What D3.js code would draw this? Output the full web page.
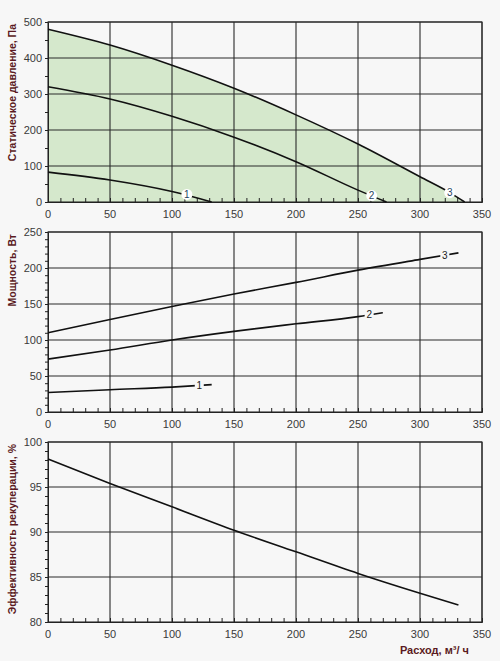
<!DOCTYPE html>
<html>
<head>
<meta charset="utf-8">
<script src="https://cdn.jsdelivr.net/npm/d3@7"></script>
<style>
  body { margin: 0; background: #f7f7f7; }
  svg { display: block; font-family: "Liberation Sans", Arial, sans-serif; }
</style>
</head>
<body>
<div id="graphicContainer"></div>
<script>
// ---- data ----
var xTicks = [0, 50, 100, 150, 200, 250, 300, 350];

// static pressure, Pa
var pressFlow1 = [0, 50, 100, 132],
    pressVal1  = [83, 61, 29, 0],
    pressFlow2 = [0, 50, 100, 150, 200, 250, 273],
    pressVal2  = [320, 286, 238, 180, 112, 33, 0],
    pressFlow3 = [0, 50, 100, 150, 200, 250, 300, 324, 336],
    pressVal3  = [480, 436, 380, 316, 242, 161, 70, 26, 0],
    pressTicks = [0, 100, 200, 300, 400, 500],
    pressLabels = [[112, 21, "1"], [261, 18, "2"], [324, 26, "3"]];

// power, W
var powFlow1 = [0, 50, 100, 132],
    powVal1  = [27, 31, 34.6, 38],
    powFlow2 = [0, 50, 100, 150, 200, 250, 270],
    powVal2  = [73.5, 86, 100, 112, 122.5, 132.5, 138],
    powFlow3 = [0, 50, 100, 150, 200, 250, 300, 331],
    powVal3  = [110, 128.5, 146.5, 164, 180, 197, 212, 221],
    powTicks = [0, 50, 100, 150, 200, 250],
    powLabels = [[122, 36.8, "1"], [259, 135, "2"], [320, 218, "3"]];

// heat recovery efficiency, %
var effFlow = [0, 50, 100, 150, 200, 250, 300, 331],
    effVal  = [98.1, 95.4, 92.8, 90.2, 87.8, 85.4, 83.2, 81.9],
    effTicks = [80, 85, 90, 95, 100];

var width = 500, height = 661,
    left = 48, right = 482,
    panelH = 180;

var svg = d3.select("#graphicContainer").append("svg")
    .attr("width", width)
    .attr("height", height);

svg.append("rect").attr("width", width).attr("height", height).attr("fill", "#f7f7f7");

var x = d3.scaleLinear().domain([0, 350]).range([left, right]);

function zip(xs, ys) { return xs.map(function(v, i){ return [v, ys[i]] }) }

function panel(top, domain, ticks, minorStep, title) {
    var y = d3.scaleLinear().domain(domain).range([top + panelH, top]);
    var g = svg.append("g");

    g.append("g").attr("class", "fillLayer");

    // grid
    g.selectAll(".vgrid").data(xTicks.slice(1)).enter().append("line")
        .attr("x1", x).attr("x2", x)
        .attr("y1", top).attr("y2", top + panelH)
        .attr("stroke", "#2a2a2a").attr("stroke-width", 1.1);
    g.selectAll(".hgrid").data(ticks.slice(1)).enter().append("line")
        .attr("x1", left).attr("x2", right)
        .attr("y1", y).attr("y2", y)
        .attr("stroke", "#2a2a2a").attr("stroke-width", 1.1);

    // axes (minor ticks only, labels done below)
    var minorX = d3.range(0, 351, 10);
    var minorY = d3.range(domain[0], domain[1] + 0.001, minorStep);

    g.append("g").attr("transform", "translate(0," + (top + panelH) + ")")
        .call(d3.axisBottom(x).tickValues(minorX).tickSize(-4).tickFormat(""))
        .call(function(a){ a.selectAll("path,line").attr("stroke", "#222") });
    g.append("g").attr("transform", "translate(" + left + ",0)")
        .call(d3.axisLeft(y).tickValues(minorY).tickSize(3).tickFormat(""))
        .call(function(a){ a.selectAll("path,line").attr("stroke", "#222") });

    g.append("g").attr("class", "lineLayer");

    // tick labels
    g.selectAll(".xl").data(xTicks).enter().append("text")
        .attr("x", x).attr("y", top + panelH + 16)
        .attr("text-anchor", "middle")
        .attr("font-size", "11px").attr("fill", "#3a3a3a")
        .text(function(d){ return d });
    g.selectAll(".yl").data(ticks).enter().append("text")
        .attr("x", left - 6).attr("y", y).attr("dy", ".35em")
        .attr("text-anchor", "end")
        .attr("font-size", "11px").attr("fill", "#3a3a3a")
        .text(function(d){ return d });

    g.append("text")
        .attr("transform", "translate(16," + (top + 2) + ") rotate(-90)")
        .attr("text-anchor", "end")
        .attr("font-size", "10.5px").attr("font-weight", "bold")
        .attr("fill", "#5a1a22")
        .text(title);

    return {g: g, y: y};
}

var line = function(y){
    return d3.line().x(function(d){ return x(d[0]) }).y(function(d){ return y(d[1]) })
        .curve(d3.curveMonotoneX);
};

function drawCurve(p, pts) {
    p.g.select(".lineLayer").append("path")
        .datum(pts)
        .attr("d", line(p.y))
        .attr("fill", "none")
        .attr("stroke", "#111")
        .attr("stroke-width", 1.6);
}

// ---- panel 1: pressure ----
var p1 = panel(22, [0, 500], pressTicks, 50, "Статическое давление, Па");
var area = d3.area().x(function(d){ return x(d[0]) })
    .y0(p1.y(0)).y1(function(d){ return p1.y(d[1]) })
    .curve(d3.curveMonotoneX);
p1.g.select(".fillLayer").append("path")
    .datum(zip(pressFlow3, pressVal3))
    .attr("d", area)
    .attr("fill", "#d5e8cc");
p1.g.select(".fillLayer").append("rect")
    .attr("x", left).attr("y", 22).attr("width", right - left).attr("height", panelH)
    .attr("fill", "none").attr("stroke", "#2a2a2a").attr("stroke-width", 1.1);

drawCurve(p1, zip(pressFlow1, pressVal1));
drawCurve(p1, zip(pressFlow2, pressVal2));
drawCurve(p1, zip(pressFlow3, pressVal3));

var pl = p1.g.selectAll(".plab").data(pressLabels).enter().append("g")
    .attr("transform", function(d){ return "translate(" + x(d[0]) + "," + p1.y(d[1]) + ")" });
pl.append("circle").attr("r", 5.5).attr("fill", "#fff");
pl.append("text").attr("dy", ".35em").attr("text-anchor", "middle")
    .attr("font-size", "10px").attr("fill", "#1f3f5f")
    .text(function(d){ return d[2] });

// ---- panel 2: power ----
var p2 = panel(232, [0, 250], powTicks, 10, "Мощность, Вт");
p2.g.select(".fillLayer").append("rect")
    .attr("x", left).attr("y", 232).attr("width", right - left).attr("height", panelH)
    .attr("fill", "none").attr("stroke", "#2a2a2a").attr("stroke-width", 1.1);
drawCurve(p2, zip(powFlow1, powVal1));
drawCurve(p2, zip(powFlow2, powVal2));
drawCurve(p2, zip(powFlow3, powVal3));

var wl = p2.g.selectAll(".wlab").data(powLabels).enter().append("g")
    .attr("transform", function(d){ return "translate(" + x(d[0]) + "," + p2.y(d[1]) + ")" });
wl.append("rect").attr("x", -4.5).attr("y", -6).attr("width", 9).attr("height", 12).attr("fill", "#f7f7f7");
wl.append("text").attr("dy", ".35em").attr("text-anchor", "middle")
    .attr("font-size", "10px").attr("fill", "#222")
    .text(function(d){ return d[2] });

// ---- panel 3: efficiency ----
var p3 = panel(442, [80, 100], effTicks, 1, "Эффективность рекуперации, %");
p3.g.select(".fillLayer").append("rect")
    .attr("x", left).attr("y", 442).attr("width", right - left).attr("height", panelH)
    .attr("fill", "none").attr("stroke", "#2a2a2a").attr("stroke-width", 1.1);
drawCurve(p3, zip(effFlow, effVal));

svg.append("text")
    .attr("x", 469).attr("y", 654)
    .attr("text-anchor", "end")
    .attr("font-size", "11px").attr("font-weight", "bold")
    .attr("fill", "#5a1a22")
    .text("Расход, м³/ ч");
</script>
</body>
</html>
